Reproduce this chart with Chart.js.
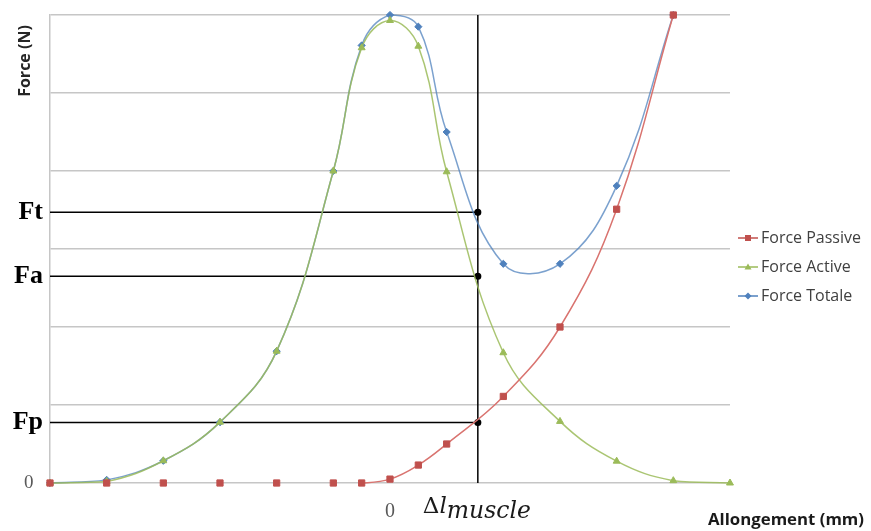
<!DOCTYPE html>
<html>
<head>
<meta charset="utf-8">
<script src="https://cdn.jsdelivr.net/npm/chart.js@4.4.1/dist/chart.umd.min.js"></script>
<style>
  html, body { margin: 0; padding: 0; background: #fff; }
</style>
</head>
<body>
<canvas id="myChart" width="871" height="531"></canvas>
<script>
// elongation (mm), 0 = rest length
const elongation = [-6, -5, -4, -3, -2, -1, -0.5, 0, 0.5, 1, 2, 3, 4, 5, 6]
const force_passive = [0, 0, 0, 0, 0, 0, 0, 0.05, 0.23, 0.50, 1.11, 2.0, 3.51, 6.0, null]
const force_active = [0, 0.02, 0.285, 0.78, 1.69, 4.0, 5.58, 5.93, 5.6, 3.99, 1.67, 0.79, 0.28, 0.03, 0]
const force_totale = [0, 0.04, 0.285, 0.78, 1.69, 4.0, 5.61, 6.0, 5.85, 4.5, 2.81, 2.81, 3.81, 6.0, null]
const series_names = ['Force Passive', 'Force Active', 'Force Totale']

// reading at the chosen elongation
const delta_l = 1.55
const level_names = ['Ft', 'Fa', 'Fp']
const level_values = [3.47, 2.65, 0.776]
const grid_values = [0, 1, 2, 3, 4, 5, 6]

const colors = {
    passive: '#c0504d', passive_line: '#d9736f',
    active: '#9bbb59', active_line: 'rgba(155,187,89,0.85)',
    totale: '#4f81bd', totale_line: 'rgba(79,129,189,0.75)',
    grid: '#c6c6c6'
}

function to_points(values){
    return elongation.map((x, i) => ({x: x, y: values[i]})).filter(p => p.y !== null)
}

function is_level(ctx){
    return !!(ctx.tick && level_values.includes(ctx.tick.value))
}

function legend_icon(color, style){
    let c = document.createElement('canvas')
    c.width = 20
    c.height = 10
    let g = c.getContext('2d')
    g.strokeStyle = color
    g.lineWidth = 1.5
    g.beginPath(); g.moveTo(0, 5); g.lineTo(20, 5); g.stroke()
    g.fillStyle = color
    g.beginPath()
    if (style == 'rect') {
        g.rect(7, 2, 6, 6)
    } else if (style == 'triangle') {
        g.moveTo(10, 1.5); g.lineTo(13.5, 7.5); g.lineTo(6.5, 7.5); g.closePath()
    } else {
        g.moveTo(10, 1.5); g.lineTo(13.5, 5); g.lineTo(10, 8.5); g.lineTo(6.5, 5); g.closePath()
    }
    g.fill()
    return c
}

const icons = [
    legend_icon(colors.passive, 'rect'),
    legend_icon(colors.active, 'triangle'),
    legend_icon(colors.totale, 'rectRot')
]

function series(label, values, line, mark, style, radius){
    return {
        label: label,
        data: to_points(values),
        borderColor: line,
        backgroundColor: mark,
        borderWidth: 1.5,
        pointStyle: style,
        pointRadius: radius,
        pointBackgroundColor: mark,
        pointBorderColor: mark,
        pointBorderWidth: 1,
        tension: 0.4,
        clip: false
    }
}

let datasets = [
    series(series_names[0], force_passive, colors.passive_line, colors.passive, 'rect', 4.4),
    series(series_names[1], force_active, colors.active_line, colors.active, 'triangle', 4),
    series(series_names[2], force_totale, colors.totale_line, colors.totale, 'rectRot', 3.6)
]
// the flat part of the passive curve sits under the base gridline
datasets[0].segment = {
    borderColor: (ctx) => (ctx.p0.parsed.y == 0 && ctx.p1.parsed.y == 0) ? 'rgba(0,0,0,0)' : undefined
}

// guide lines
level_values.forEach((v, i) => {
    datasets.push({
        label: level_names[i],
        data: [{x: -6, y: v}, {x: delta_l, y: v}],
        borderColor: '#000',
        backgroundColor: '#000',
        borderWidth: 1.5,
        pointRadius: [0, 2.8],
        pointHoverRadius: 0,
        tension: 0,
        clip: false,
        order: 5
    })
})
datasets.push({
    label: 'delta',
    data: [{x: delta_l, y: 0}, {x: delta_l, y: 6}],
    borderColor: '#000',
    borderWidth: 1.5,
    pointRadius: 0,
    tension: 0,
    clip: false,
    order: 5
})

const text_plugin = {
    id: 'extra_text',
    afterDraw(chart){
        const ctx = chart.ctx
        const px = chart.scales.x.getPixelForValue(delta_l)
        ctx.save()

        ctx.save()
        ctx.translate(25, 61)
        ctx.rotate(-Math.PI / 2)
        ctx.font = 'bold 16px "Open Sans"'
        ctx.fillStyle = '#262626'
        ctx.textAlign = 'center'
        ctx.textBaseline = 'middle'
        ctx.fillText('Force (N)', 0, 0)
        ctx.restore()

        ctx.fillStyle = '#1a1a1a'
        ctx.textAlign = 'left'
        ctx.textBaseline = 'alphabetic'
        let x0 = px - 55
        ctx.font = '23px "DejaVu Serif"'
        ctx.fillText('\u0394', x0, 513)
        x0 += ctx.measureText('\u0394').width
        ctx.font = 'italic 23px "DejaVu Serif"'
        ctx.fillText('l', x0, 513)
        x0 += ctx.measureText('l').width
        ctx.font = 'italic 23.5px "DejaVu Serif"'
        ctx.fillText('muscle', x0, 518)

        ctx.font = 'bold 16.8px "Open Sans"'
        ctx.fillStyle = '#1a1a1a'
        ctx.fillText('Allongement (mm)', 708, 525)
        ctx.restore()
    }
}

let config = {
    type: 'line',
    data: { datasets: datasets },
    options: {
        responsive: false,
        animation: false,
        devicePixelRatio: 1,
        layout: { padding: { top: 15, right: 0, bottom: 12, left: 0 }, autoPadding: false },
        plugins: {
            tooltip: { enabled: false },
            legend: {
                position: 'right',
                align: 'center',
                labels: {
                    usePointStyle: true,
                    pointStyleWidth: 10,
                    boxHeight: 10,
                    padding: 13,
                    color: '#404040',
                    font: { family: 'Open Sans', size: 16 },
                    filter: (item) => item.datasetIndex < 3,
                    generateLabels: (chart) => {
                        let items = Chart.defaults.plugins.legend.labels.generateLabels(chart)
                        items.forEach((item) => {
                            if (item.datasetIndex < 3) item.pointStyle = icons[item.datasetIndex]
                        })
                        return items
                    }
                }
            }
        },
        scales: {
            x: {
                type: 'linear',
                min: -6,
                max: 6,
                afterBuildTicks: (axis) => { axis.ticks = [{value: 0}] },
                afterFit: (axis) => {
                    axis.height = 36
                    axis.paddingLeft = 0
                    axis.paddingRight = 0
                },
                ticks: {
                    callback: () => '0',
                    color: '#595959',
                    font: { family: 'Liberation Serif', size: 20 },
                    padding: 9,
                    maxRotation: 0
                },
                grid: { display: false },
                border: { display: false }
            },
            y: {
                type: 'linear',
                min: 0,
                max: 6,
                afterBuildTicks: (axis) => {
                    axis.ticks = level_values.concat(grid_values).map((v) => ({value: v}))
                },
                afterFit: (axis) => {
                    axis.width = 50
                    axis.paddingTop = 0
                    axis.paddingBottom = 0
                },
                ticks: {
                    autoSkip: false,
                    padding: 7,
                    callback: (value) => {
                        let i = level_values.indexOf(value)
                        if (i >= 0) return level_names[i]
                        return value == 0 ? '0\u2002' : ''
                    },
                    color: (ctx) => is_level(ctx) ? '#000' : '#595959',
                    font: (ctx) => is_level(ctx)
                        ? { family: 'Liberation Serif', size: 26, weight: 'bold' }
                        : { family: 'Liberation Serif', size: 19 }
                },
                grid: {
                    drawTicks: false,
                    lineWidth: 1.5,
                    color: (ctx) => (ctx.tick && grid_values.includes(ctx.tick.value)) ? colors.grid : 'rgba(0,0,0,0)'
                },
                border: { color: colors.grid, width: 1.5 }
            }
        }
    },
    plugins: [text_plugin]
}

let mychart = new Chart(document.getElementById('myChart'), config)
</script>
</body>
</html>
